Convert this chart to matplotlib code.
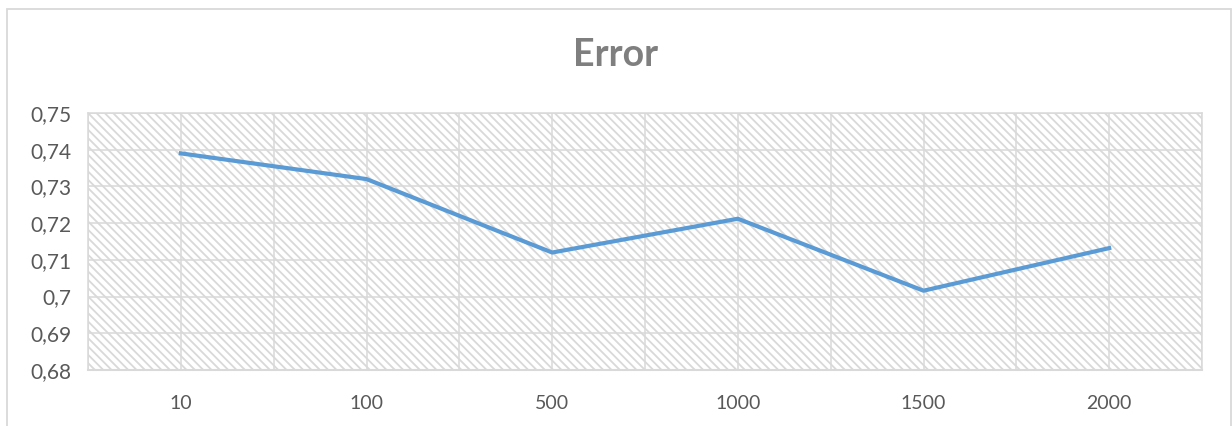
import matplotlib
matplotlib.use("Agg")
from matplotlib import pyplot as plt
from matplotlib.patches import Rectangle
from matplotlib.ticker import FuncFormatter, MultipleLocator

# donnees
categories = ["10", "100", "500", "1000", "1500", "2000"]
erreur = [0.739, 0.732, 0.712, 0.7212, 0.7016, 0.7132]

gris_grille = "#d9d9d9"
gris_texte = "#595959"

plt.rcParams["font.family"] = ["Lato", "DejaVu Sans"]
plt.rcParams["hatch.color"] = "#dedede"
plt.rcParams["hatch.linewidth"] = 1.3

fig = plt.figure(figsize=(12.32, 4.26), dpi=100)
ax = fig.add_axes([88 / 1232, 56 / 426, 1114 / 1232, 257 / 426])

# fond hachure de la zone de traçage
ax.add_patch(Rectangle((0, 0), 1, 1, transform=ax.transAxes, facecolor="white",
                       edgecolor=gris_grille, hatch="\\\\\\\\", linewidth=0, zorder=0))

x = list(range(len(categories)))
ax.plot(x, erreur, color="#5b9bd5", linewidth=3.0, solid_joinstyle="round", zorder=3)

ax.set_xlim(-0.5, len(categories) - 0.5)
ax.set_ylim(0.68, 0.75)
ax.yaxis.set_major_locator(MultipleLocator(0.01))
ax.yaxis.set_major_formatter(FuncFormatter(lambda v, p: f"{v:.2f}".rstrip("0").replace(".", ",")))
ax.set_xticks(x)
ax.set_xticklabels(categories)
ax.set_xticks([i - 0.5 for i in range(len(categories) + 1)], minor=True)

ax.grid(True, which="major", color=gris_grille, linewidth=1.1, zorder=1)
ax.grid(True, which="minor", axis="x", color=gris_grille, linewidth=1.1, zorder=1)
ax.set_axisbelow(True)
for s in ax.spines.values():
    s.set_color(gris_grille)
    s.set_linewidth(1.1)
ax.spines["bottom"].set_linewidth(1.5)

ax.tick_params(which="both", length=0)
ax.tick_params(axis="y", labelsize=15, labelcolor=gris_texte, pad=12)
ax.tick_params(axis="x", labelsize=14, labelcolor=gris_texte, pad=18)

fig.text(0.5, 1 - 55 / 426, "Error", ha="center", va="center", fontsize=27,
         fontweight="bold", color="#7f7f7f")

# cadre du graphique
fig.patches.append(Rectangle((7 / 1232, -0.05), 1224 / 1232, 1.05 - 9 / 426,
                             transform=fig.transFigure, fill=False,
                             edgecolor=gris_grille, linewidth=1.3))

fig.savefig("out.png", dpi=100)
